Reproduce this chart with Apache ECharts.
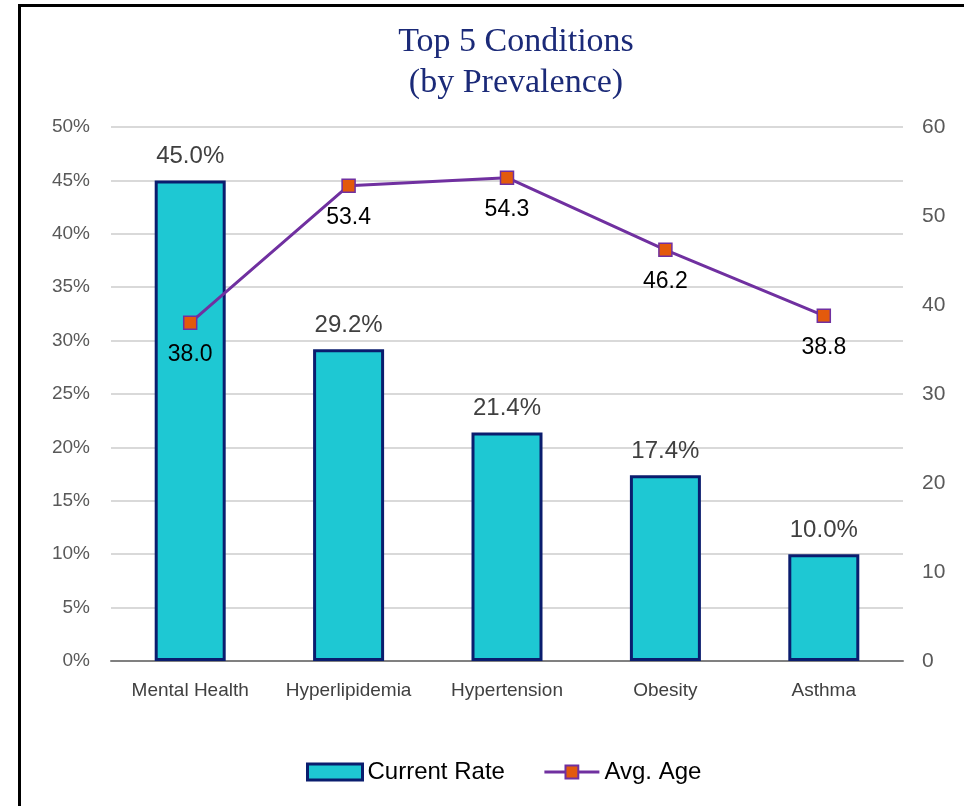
<!DOCTYPE html>
<html>
<head>
<meta charset="utf-8">
<script src="https://cdn.jsdelivr.net/npm/echarts@6/dist/echarts.min.js"></script>
<style>
  html, body { margin: 0; padding: 0; background: #fff; }
  #frame {
    position: absolute; left: 18px; top: 4px; width: 960px; height: 820px;
    border-left: 3px solid #000; border-top: 3px solid #000;
  }
  #chart { position: absolute; left: 0; top: 0; width: 964px; height: 806px; }
</style>
</head>
<body>
<div id="frame"></div>
<div id="chart"></div>
<script>
  // data
  const conditions = ['Mental Health', 'Hyperlipidemia', 'Hypertension', 'Obesity', 'Asthma']
  const currentRate = [45.0, 29.2, 21.4, 17.4, 10.0]
  const avgAge = [38.0, 53.4, 54.3, 46.2, 38.8]

  let chart = echarts.init(document.getElementById('chart'))
  chart.setOption({
    title: {
      text: 'Top 5 Conditions\n(by Prevalence)',
      left: 511,
      top: 17,
      textAlign: 'center',
      textStyle: {
        fontFamily: 'Liberation Serif',
        fontWeight: 'normal',
        fontSize: 34,
        lineHeight: 41,
        color: '#1b2a78'
      }
    },
    legend: {
      bottom: 17,
      left: 301,
      itemGap: 38,
      itemWidth: 55,
      itemHeight: 16,
      textStyle: { fontFamily: 'Liberation Sans', fontSize: 24, color: '#000' },
      data: [
        { name: 'Current Rate', icon: 'rect', itemStyle: { borderWidth: 3, borderColor: '#0a1d6e' } },
        { name: 'Avg. Age', lineStyle: { width: 3 } }
      ]
    },
    grid: { left: 111, right: 61, top: 127, bottom: 145 },
    xAxis: {
      type: 'category',
      data: conditions,
      axisTick: { show: false },
      axisLine: { lineStyle: { color: '#808080', width: 2 } },
      axisLabel: {
        interval: 0,
        margin: 20,
        fontFamily: 'Liberation Sans',
        fontSize: 19,
        color: '#404040'
      }
    },
    yAxis: [
      {
        type: 'value',
        min: 0,
        max: 50,
        interval: 5,
        axisLabel: {
          formatter: '{value}%',
          margin: 21,
          fontFamily: 'Liberation Sans',
          fontSize: 19,
          color: '#595959'
        },
        splitLine: { lineStyle: { color: '#d9d9d9', width: 2 } }
      },
      {
        type: 'value',
        min: 0,
        max: 60,
        interval: 10,
        splitLine: { show: false },
        axisLabel: {
          margin: 19,
          fontFamily: 'Liberation Sans',
          fontSize: 21,
          color: '#595959'
        }
      }
    ],
    series: [
      {
        name: 'Current Rate',
        type: 'bar',
        barWidth: 71,
        data: currentRate,
        itemStyle: { color: '#1ec8d3', borderColor: '#0a1d6e', borderWidth: 3 },
        label: {
          show: true,
          position: 'top',
          distance: 12,
          formatter: function (p) { return p.value.toFixed(1) + '%' },
          fontFamily: 'Liberation Sans',
          fontSize: 24,
          color: '#404040'
        }
      },
      {
        name: 'Avg. Age',
        type: 'line',
        yAxisIndex: 1,
        data: avgAge,
        symbol: 'rect',
        symbolSize: 13,
        lineStyle: { color: '#7030a0', width: 3 },
        itemStyle: { color: '#e35a0c', borderColor: '#7030a0', borderWidth: 1.5 },
        label: {
          show: true,
          position: 'bottom',
          distance: 13,
          formatter: function (p) { return p.value.toFixed(1) },
          fontFamily: 'Liberation Sans',
          fontSize: 23,
          color: '#000'
        }
      }
    ]
  })
</script>
</body>
</html>
